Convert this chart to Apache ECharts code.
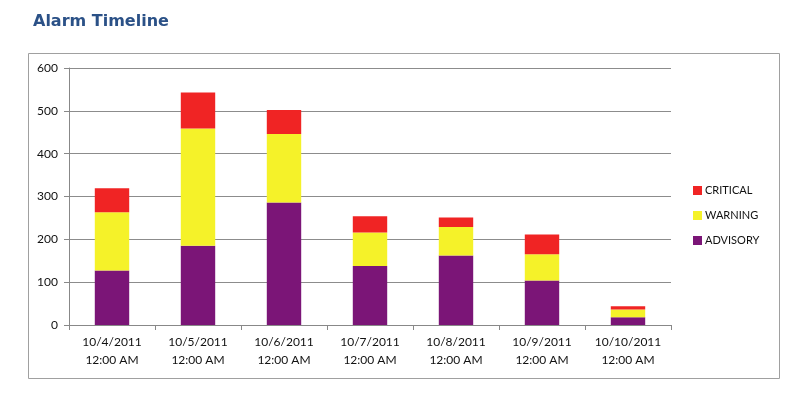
<!DOCTYPE html>
<html>
<head>
<meta charset="utf-8">
<script src="https://cdn.jsdelivr.net/npm/echarts@6/dist/echarts.min.js"></script>
<style>
html,body{margin:0;padding:0;background:#fff;}
#chart{width:798px;height:394px;}
</style>
</head>
<body>
<div id="chart"></div>
<script>
var categories = ['10/4/2011\n12:00 AM','10/5/2011\n12:00 AM','10/6/2011\n12:00 AM','10/7/2011\n12:00 AM','10/8/2011\n12:00 AM','10/9/2011\n12:00 AM','10/10/2011\n12:00 AM'];
var advisory = [127, 185, 286, 138, 162, 104, 18];
var warning  = [136, 274, 160, 78, 67, 61, 18];
var critical = [56, 84, 56, 38, 22, 46, 8];
var legendOrder = ['CRITICAL', 'WARNING', 'ADVISORY'];

var FONT = 'Lato';
var chart = echarts.init(document.getElementById('chart'));
chart.setOption({
  animation: false,
  backgroundColor: '#ffffff',
  title: {
    text: 'Alarm Timeline',
    left: 28, top: 9,
    textStyle: {fontFamily: 'DejaVu Sans', fontSize: 16, fontWeight: 'bold', color: '#2B5187'}
  },
  graphic: [{
    type: 'rect', left: 26, top: 51, z: -1,
    shape: {width: 751, height: 325},
    style: {fill: 'none', stroke: '#a0a0a0', lineWidth: 1}
  }],
  legend: {
    data: legendOrder,
    orient: 'vertical',
    left: 688, top: 180,
    itemWidth: 9, itemHeight: 9, itemGap: 14,
    icon: 'rect',
    textStyle: {fontFamily: FONT, fontSize: 11, color: '#111', padding: [0,0,0,-2]}
  },
  grid: {left: 69, right: 127, top: 68, bottom: 69, containLabel: false},
  xAxis: {
    type: 'category',
    data: categories,
    axisLine: {lineStyle: {color: '#888', width: 1}},
    axisTick: {show: true, length: 5, lineStyle: {color: '#888'}},
    axisLabel: {fontFamily: FONT, fontSize: 12, color: '#111', lineHeight: 18, margin: 8, interval: 0}
  },
  yAxis: {
    type: 'value',
    min: 0, max: 600, interval: 100,
    axisLine: {show: true, lineStyle: {color: '#888', width: 1}},
    axisTick: {show: true, length: 5, lineStyle: {color: '#888'}},
    splitLine: {lineStyle: {color: '#8c8c8c', width: 1}},
    axisLabel: {fontFamily: FONT, fontSize: 12, color: '#111', margin: 11}
  },
  series: [
    {name: 'ADVISORY', type: 'bar', stack: 'a', data: advisory, barWidth: '40%', itemStyle: {color: '#7B1577'}},
    {name: 'WARNING', type: 'bar', stack: 'a', data: warning, barWidth: '40%', itemStyle: {color: '#F5F229'}},
    {name: 'CRITICAL', type: 'bar', stack: 'a', data: critical, barWidth: '40%', itemStyle: {color: '#F02424'}}
  ]
});
</script>
</body>
</html>
